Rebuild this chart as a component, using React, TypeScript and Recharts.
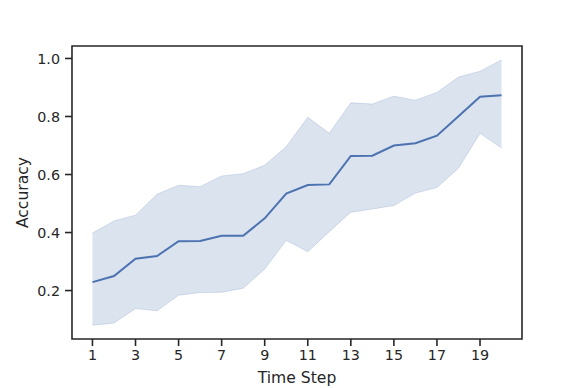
import {
  ComposedChart,
  Area,
  Line,
  XAxis,
  YAxis,
  ReferenceArea,
} from "recharts";

const steps = [1, 2, 3, 4, 5, 6, 7, 8, 9, 10, 11, 12, 13, 14, 15, 16, 17, 18, 19, 20];
const meanAcc = [
  0.229, 0.25, 0.31, 0.319, 0.37, 0.371, 0.389, 0.389, 0.449, 0.534,
  0.564, 0.566, 0.664, 0.665, 0.7, 0.708, 0.734, 0.801, 0.868, 0.873,
];
const upperAcc = [
  0.398, 0.44, 0.46, 0.532, 0.563, 0.558, 0.595, 0.603, 0.632, 0.696,
  0.797, 0.742, 0.847, 0.843, 0.87, 0.856, 0.883, 0.936, 0.956, 0.995,
];
const lowerAcc = [
  0.08, 0.088, 0.138, 0.13, 0.184, 0.193, 0.194, 0.208, 0.274, 0.373,
  0.334, 0.403, 0.47, 0.481, 0.493, 0.536, 0.555, 0.622, 0.742, 0.691,
];
const xTicks = [1, 3, 5, 7, 9, 11, 13, 15, 17, 19];
const yTicks = [0.2, 0.4, 0.6, 0.8, 1.0];

const data = steps.map((s, i) => ({
  step: s,
  mean: meanAcc[i],
  band: [lowerAcc[i], upperAcc[i]],
}));

const blue = "#4c72b0";
const ink = "#262626";
const font = "'DejaVu Sans', sans-serif";
const xDomain: [number, number] = [0.05, 20.95];
const yDomain: [number, number] = [0.033, 1.043];

export default function App() {
  return (
    <div style={{ position: "absolute", left: 0, top: 0, fontFamily: font }}>
      <ComposedChart
        width={581}
        height={388}
        data={data}
        margin={{ top: 46, right: 59, left: 0, bottom: 0 }}
      >
        <XAxis
          dataKey="step"
          type="number"
          domain={xDomain}
          ticks={xTicks}
          allowDataOverflow
          height={49}
          tickSize={7}
          tickMargin={4}
          axisLine={false}
          tickLine={{ stroke: ink, strokeWidth: 1.6 }}
          tick={{ fill: ink, fontSize: 14.3, fontFamily: font }}
          label={{
            value: "Time Step",
            position: "insideBottom",
            offset: 5,
            fill: ink,
            fontSize: 15.6,
            fontFamily: font,
          }}
        />
        <YAxis
          type="number"
          domain={yDomain}
          ticks={yTicks}
          allowDataOverflow
          width={72}
          tickSize={7}
          tickMargin={5}
          axisLine={false}
          tickLine={{ stroke: ink, strokeWidth: 1.6 }}
          tickFormatter={(v: number) => v.toFixed(1)}
          tick={{ fill: ink, fontSize: 14.3, fontFamily: font }}
          label={{
            value: "Accuracy",
            angle: -90,
            position: "center",
            dx: -14,
            fill: ink,
            fontSize: 15.6,
            fontFamily: font,
          }}
        />
        <Area
          dataKey="band"
          type="linear"
          fill={blue}
          fillOpacity={0.2}
          stroke={blue}
          strokeOpacity={0.2}
          strokeWidth={1}
          isAnimationActive={false}
          activeDot={false}
        />
        <Line
          dataKey="mean"
          type="linear"
          stroke={blue}
          strokeWidth={2}
          dot={false}
          isAnimationActive={false}
        />
        <ReferenceArea
          x1={xDomain[0]}
          x2={xDomain[1]}
          y1={yDomain[0]}
          y2={yDomain[1]}
          fill="none"
          stroke={ink}
          strokeWidth={1.6}
        />
      </ComposedChart>
    </div>
  );
}
